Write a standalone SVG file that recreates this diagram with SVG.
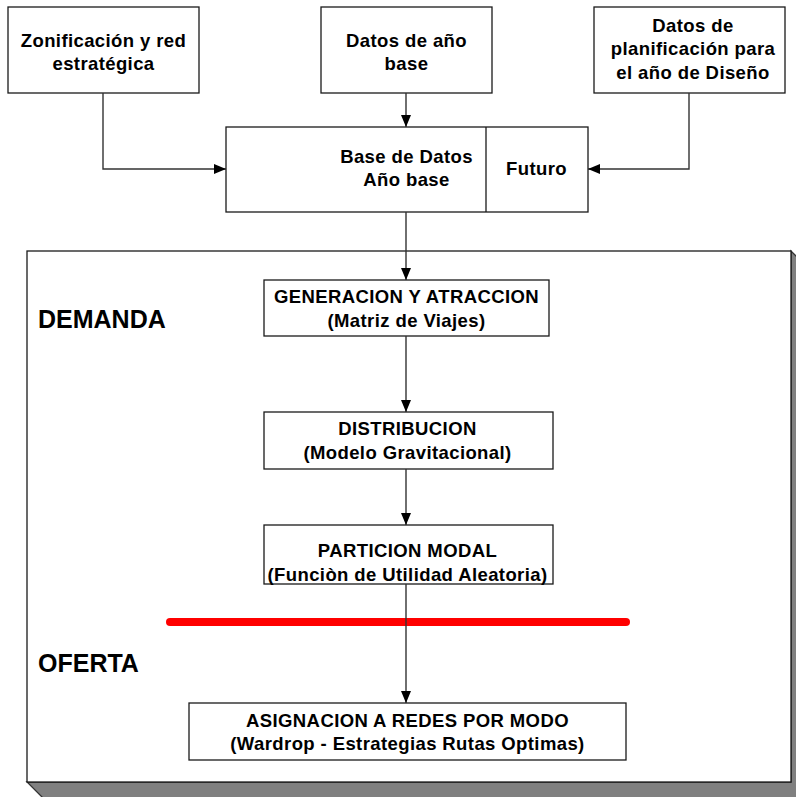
<svg xmlns="http://www.w3.org/2000/svg" width="796" height="797" viewBox="0 0 796 797">
  <defs>
    <marker id="arrow" markerWidth="12" markerHeight="12" refX="12" refY="6" orient="auto" markerUnits="userSpaceOnUse">
      <path d="M0,1 L12,6 L0,11 Z" fill="#000"/>
    </marker>
    <style>
      .box { fill: #fff; stroke: #1a1a1a; stroke-width: 1.3; }
      .txt { font-family: "Liberation Sans", Arial, sans-serif; font-weight: bold; font-size: 18.5px; letter-spacing: 0.4px; fill: #000; text-anchor: middle; }
      .lbl { font-family: "Liberation Sans", Arial, sans-serif; font-weight: bold; font-size: 25px; fill: #000; }
      .conn { fill: none; stroke: #333; stroke-width: 1.4; }
    </style>
  </defs>
  <rect width="796" height="797" fill="#fff"/>

  <!-- extruded frame for the model stages -->
  <g id="frame">
    <polygon points="27,782 791,782 791,251 809,269 809,800 45,800" fill="#808080" stroke="#333" stroke-width="1.3"/>
    <rect x="27" y="251" width="764" height="531" class="box"/>
    <text x="38" y="328" class="lbl">DEMANDA</text>
    <text x="38" y="672" class="lbl">OFERTA</text>
    <line x1="170" y1="622" x2="626" y2="622" stroke="#ff0000" stroke-width="8" stroke-linecap="round"/>
  </g>

  <g id="zonificacion">
    <rect x="8" y="7" width="191" height="86" class="box"/>
    <text x="103.5" y="47" class="txt">Zonificación y red</text>
    <text x="103.5" y="70" class="txt">estratégica</text>
  </g>

  <g id="datos-base">
    <rect x="321" y="7" width="171" height="86" class="box"/>
    <text x="406.5" y="47" class="txt">Datos de año</text>
    <text x="406.5" y="70" class="txt">base</text>
  </g>

  <g id="datos-planificacion">
    <rect x="594" y="7" width="191" height="86" class="box"/>
    <text x="693" y="32" class="txt">Datos de</text>
    <text x="693" y="55" class="txt">planificación para</text>
    <text x="693" y="79" class="txt">el año de Diseño</text>
  </g>

  <g id="base-datos">
    <rect x="226" y="127" width="362" height="85" class="box"/>
    <line x1="486" y1="127" x2="486" y2="212" stroke="#1a1a1a" stroke-width="1.3"/>
    <text x="406.5" y="163" class="txt">Base de Datos</text>
    <text x="406.5" y="186" class="txt">Año base</text>
    <text x="536.5" y="175" class="txt">Futuro</text>
  </g>

  <g id="generacion">
    <rect x="264" y="280" width="285" height="56" class="box"/>
    <text x="406.5" y="303" class="txt">GENERACION Y ATRACCION</text>
    <text x="406.5" y="327" class="txt">(Matriz de Viajes)</text>
  </g>

  <g id="distribucion">
    <rect x="264" y="412" width="289" height="57" class="box"/>
    <text x="407.5" y="435" class="txt">DISTRIBUCION</text>
    <text x="407.5" y="459" class="txt">(Modelo Gravitacional)</text>
  </g>

  <g id="particion">
    <rect x="264" y="525" width="289" height="59" class="box"/>
    <text x="407.5" y="557" class="txt">PARTICION MODAL</text>
    <text x="407.5" y="581" class="txt">(Funciòn de Utilidad Aleatoria)</text>
  </g>

  <g id="asignacion">
    <rect x="189" y="703" width="437" height="57" class="box"/>
    <text x="407.5" y="727" class="txt">ASIGNACION A REDES POR MODO</text>
    <text x="407.5" y="750" class="txt">(Wardrop - Estrategias Rutas Optimas)</text>
  </g>

  <g id="connectors">
    <polyline points="103,93 103,169 226,169" class="conn" marker-end="url(#arrow)"/>
    <line x1="406" y1="93" x2="406" y2="127" class="conn" marker-end="url(#arrow)"/>
    <polyline points="689,93 689,169 588,169" class="conn" marker-end="url(#arrow)"/>
    <line x1="406" y1="212" x2="406" y2="280" class="conn" marker-end="url(#arrow)"/>
    <line x1="406" y1="336" x2="406" y2="412" class="conn" marker-end="url(#arrow)"/>
    <line x1="406" y1="469" x2="406" y2="525" class="conn" marker-end="url(#arrow)"/>
    <line x1="406" y1="584" x2="406" y2="703" class="conn" marker-end="url(#arrow)"/>
  </g>
</svg>
